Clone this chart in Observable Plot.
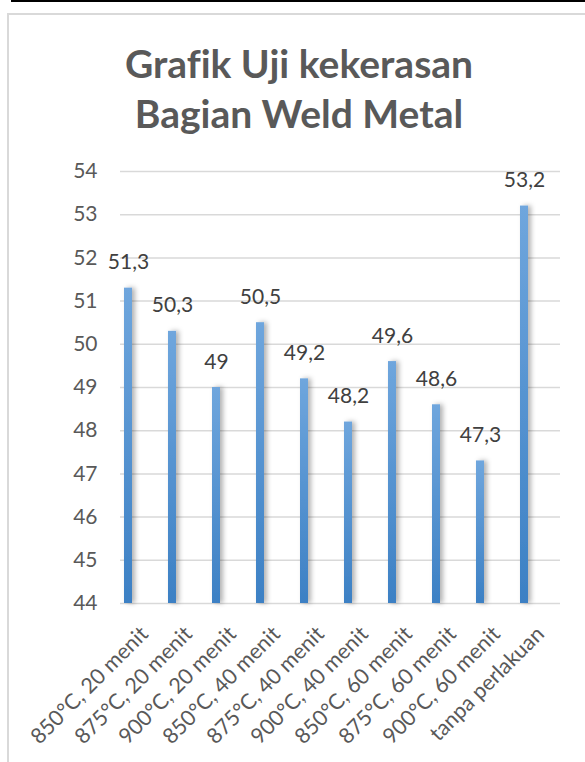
<!DOCTYPE html>
<html>
<head>
<meta charset="utf-8">
<script src="https://cdn.jsdelivr.net/npm/d3@7"></script>
<script src="https://cdn.jsdelivr.net/npm/@observablehq/plot@0.6"></script>
<style>
  html, body { margin: 0; padding: 0; background: #fff; width: 585px; height: 762px; overflow: hidden; }
  #topline { position: absolute; left: 11px; top: 0; width: 600px; height: 2px; background: #000; }
  #frame { position: absolute; left: 7px; top: 13px; width: 700px; height: 900px; border: 2px solid #d9d9d9; box-sizing: border-box; }
  #title { position: absolute; left: 0; top: 38px; width: 598px; text-align: center; font-family: Lato, sans-serif; font-weight: bold; font-size: 39px; line-height: 50px; color: #595959; font-variant-ligatures: none; }
  #chart { position: absolute; left: 0; top: 150px; }
</style>
</head>
<body>
<div id="topline"></div>
<div id="frame"></div>
<div id="title">Grafik Uji kekerasan<br>Bagian Weld Metal</div>
<div id="chart"></div>
<script>
const categories = ["850°C, 20 menit", "875°C, 20 menit", "900°C, 20 menit", "850°C, 40 menit", "875°C, 40 menit", "900°C, 40 menit", "850°C, 60 menit", "875°C, 60 menit", "900°C, 60 menit", "tanpa perlakuan"];
const values = [51.3, 50.3, 49, 50.5, 49.2, 48.2, 49.6, 48.6, 47.3, 53.2];
const yTicks = [44, 45, 46, 47, 48, 49, 50, 51, 52, 53, 54];

const data = categories.map((c, i) => ({cat: c, val: values[i]}));
const fmt = v => String(v).replace(".", ",");
const FONT = "Lato, sans-serif";

const plot = Plot.plot({
  width: 585,
  height: 612,
  marginLeft: 120,
  marginRight: 25,
  marginTop: 21,
  marginBottom: 159,
  style: {fontFamily: FONT, color: "#595959", background: "transparent"},
  x: {domain: categories, paddingInner: 0.818, paddingOuter: 0.409, axis: null, label: null},
  y: {domain: [44, 54], axis: null, label: null},
  marks: [
    Plot.gridY(yTicks, {stroke: "#d9d9d9", strokeOpacity: 1, strokeWidth: 1.5}),
    Plot.axisY(yTicks, {tickSize: 0, tickPadding: 23, fontSize: 21, fontFamily: FONT, fill: "#595959", tickFormat: d => d, label: null}),
    Plot.barY(data, {x: "cat", y1: 44, y2: "val", dx: -14, fill: "#5b9bd5"}),
    Plot.text(data, {x: "cat", y: "val", text: d => fmt(d.val), dx: -14, dy: -19, lineAnchor: "bottom", fontSize: 21, fontFamily: FONT, fill: "#404040"}),
    Plot.text(categories, {x: d => d, frameAnchor: "bottom", text: d => d, rotate: -45, textAnchor: "end", lineAnchor: "middle", dx: 2, dy: 27, fontSize: 21.5, fontFamily: FONT, fill: "#595959"})
  ]
});

// gradient and shadow for bars
const svg = d3.select(plot);
const defs = svg.insert("defs", ":first-child");
const grad = defs.append("linearGradient").attr("id", "barGrad").attr("x1", 0).attr("y1", 0).attr("x2", 0).attr("y2", 1);
grad.append("stop").attr("offset", "0%").attr("stop-color", "#6fa6dd");
grad.append("stop").attr("offset", "100%").attr("stop-color", "#3c80c4");
const filt = defs.append("filter").attr("id", "barShadow").attr("x", "-100%").attr("y", "-10%").attr("width", "300%").attr("height", "120%");
filt.append("feDropShadow").attr("dx", 3).attr("dy", 0).attr("stdDeviation", 2.5).attr("flood-color", "#000").attr("flood-opacity", 0.3);
svg.selectAll("g[aria-label='bar'] rect").attr("fill", "url(#barGrad)").attr("filter", "url(#barShadow)");

document.getElementById("chart").appendChild(plot);
</script>
</body>
</html>
